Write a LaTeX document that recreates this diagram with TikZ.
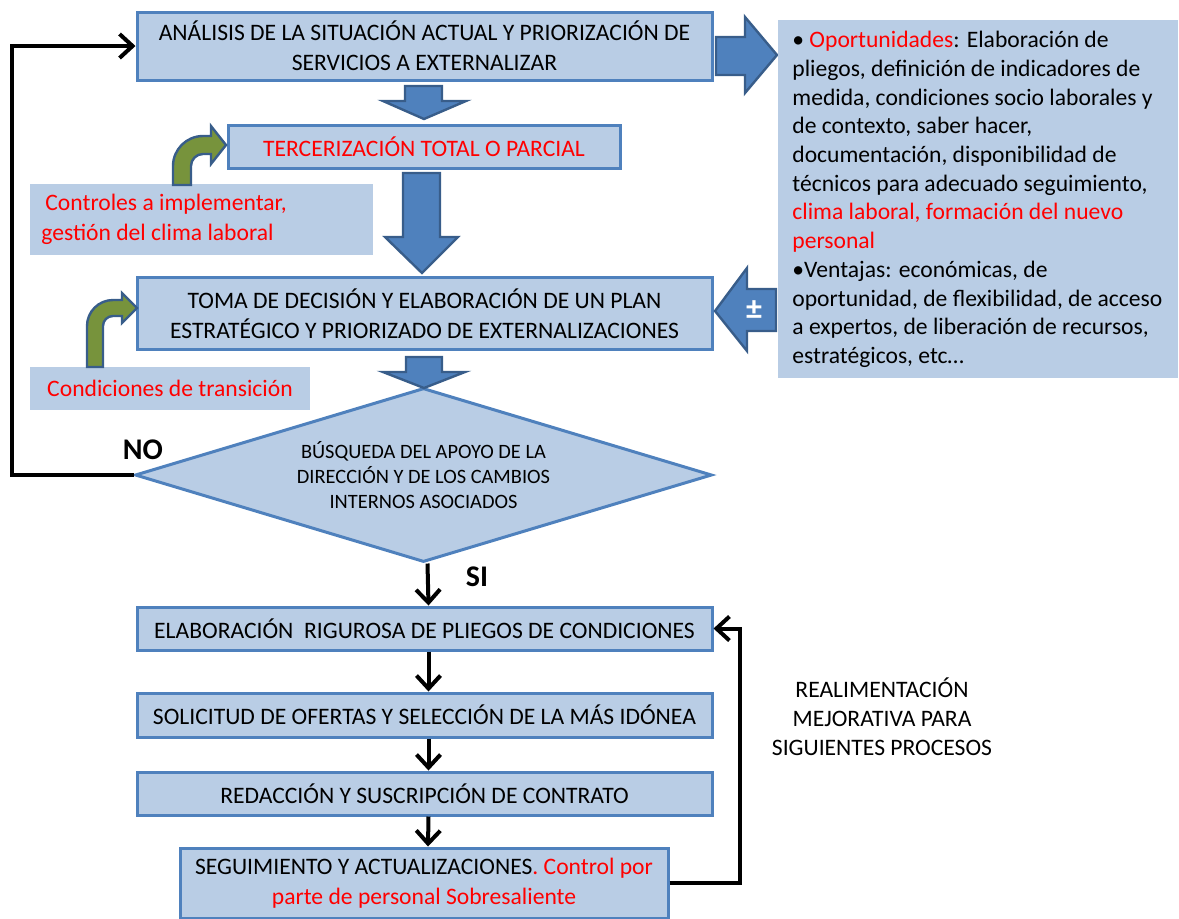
\documentclass[tikz,border=0pt]{standalone}
\usepackage{fontspec}
\setmainfont{Carlito}
\usetikzlibrary{arrows.meta,shapes.geometric}
\definecolor{boxfill}{HTML}{B9CDE5}
\definecolor{boxline}{HTML}{4F81BD}
\definecolor{arrfill}{HTML}{4F81BD}
\definecolor{arrline}{HTML}{385D8A}
\definecolor{grn}{HTML}{77933C}
\definecolor{rd}{HTML}{FF0000}
\begin{document}
\begin{tikzpicture}[x=0.5pt,y=-0.5pt,
  flowbox/.style={draw=boxline,line width=1.5pt,fill=boxfill,align=center,inner sep=0pt,font=\fontsize{11.8}{15}\selectfont},
  notebox/.style={fill=boxfill,inner sep=0pt,font=\fontsize{11.8}{15}\selectfont},
  blockarrow/.style={fill=arrfill,draw=arrline,line width=1.2pt,line join=miter},
  bentarrow/.style={fill=grn,draw=arrline,line width=1.2pt,line join=miter},
  conn/.style={line width=2pt,-{Straight Barb[length=6.5pt,width=12pt]}},
  lbl/.style={font=\bfseries\fontsize{15}{17}\selectfont,inner sep=0pt}]
\useasboundingbox (0,0) rectangle (1179,918);

% main flow boxes
\node[flowbox,minimum width=287.5pt,minimum height=34pt] (box1) at (424.5,46)
  {ANÁLISIS DE LA SITUACIÓN ACTUAL Y PRIORIZACIÓN DE\\SERVICIOS A EXTERNALIZAR};
\node[flowbox,minimum width=196pt,minimum height=21.5pt,text=rd] (box2) at (424,146.5)
  {TERCERIZACIÓN TOTAL O PARCIAL};
\node[flowbox,minimum width=287.5pt,minimum height=36pt] (box3) at (424.5,313.5)
  {TOMA DE DECISIÓN Y ELABORACIÓN DE UN PLAN\\ESTRATÉGICO Y PRIORIZADO DE EXTERNALIZACIONES};
\node[draw=boxline,line width=1.5pt,fill=boxfill,shape=diamond,shape aspect=3.3,
  minimum width=288.5pt,minimum height=87pt,inner sep=0pt,align=center,
  font=\fontsize{10.2}{12.5}\selectfont] (dia) at (423.5,475)
  {BÚSQUEDA DEL APOYO DE LA\\DIRECCIÓN Y DE LOS CAMBIOS\\INTERNOS ASOCIADOS};
\node[flowbox,minimum width=287.5pt,minimum height=21.5pt] (box4) at (424.5,628.5)
  {ELABORACIÓN\ \ RIGUROSA DE PLIEGOS DE CONDICIONES};
\node[flowbox,minimum width=287.5pt,minimum height=22pt] (box5) at (424.5,715)
  {SOLICITUD DE OFERTAS Y SELECCIÓN DE LA MÁS IDÓNEA};
\node[flowbox,minimum width=287.5pt,minimum height=21.5pt] (box6) at (424.5,793.5)
  {REDACCIÓN Y SUSCRIPCIÓN DE CONTRATO};
\node[flowbox,minimum width=244pt,minimum height=35pt] (box7) at (424,883)
  {SEGUIMIENTO Y ACTUALIZACIONES\textcolor{rd}{. Control por}\\\textcolor{rd}{parte de personal Sobresaliente}};

% side notes
\node[notebox,minimum width=171.5pt,minimum height=35.5pt,align=left,text=rd] (ctrl) at (201.5,219.5)
  {\hspace*{2pt}Controles a implementar,\\gestión del clima laboral\hspace*{44pt}};
\node[notebox,minimum width=140pt,minimum height=21.5pt,text=rd] (cond) at (170,388.5)
  {Condiciones de transición};

% block arrows
\draw[blockarrow] (405,86) -- (442,86) -- (442,101) -- (466,101) -- (424,119) -- (383,101) -- (405,101) -- cycle;
\draw[blockarrow] (403,173) -- (440,173) -- (440,237) -- (458,237) -- (422,273) -- (385,237) -- (403,237) -- cycle;
\draw[blockarrow] (406,357) -- (442,357) -- (442,372) -- (465,372) -- (424,388) -- (383,372) -- (406,372) -- cycle;
\draw[blockarrow] (716,37) -- (745,37) -- (745,17) -- (777,55) -- (745,93) -- (745,75) -- (716,75) -- cycle;
\draw[blockarrow] (776,289) -- (747,289) -- (747,268) -- (715,311) -- (747,351) -- (747,331) -- (776,331) -- cycle;
\node[text=white,font=\bfseries\fontsize{16}{18}\selectfont,inner sep=0pt] (pm) at (754,310) {±};

% right info box
\node[fill=boxfill,anchor=north west,minimum width=200pt,minimum height=179pt,
  inner xsep=7pt,inner ysep=0pt,text width=186pt,align=flush left,
  font=\fontsize{11.8}{14.35}\selectfont] (info) at (778,20)
  {• \textcolor{rd}{Oportunidades}: Elaboración de\\
   pliegos, definición de indicadores de\\
   medida, condiciones socio laborales y\\
   de contexto, saber hacer,\\
   documentación, disponibilidad de\\
   técnicos para adecuado seguimiento,\\
   \textcolor{rd}{clima laboral, formación del nuevo}\\
   \textcolor{rd}{personal}\\
   •Ventajas: económicas, de\\
   \mbox{oportunidad, de flexibilidad, de acceso}\\
   a expertos, de liberación de recursos,\\
   estratégicos, etc…};

% green bent arrows
\draw[bentarrow] (173,185) -- (173,166) arc[start angle=180,end angle=270,radius=30]
  -- (211,136) -- (211,126) -- (226,145) -- (211,164) -- (211,154) -- (203,154)
  arc[start angle=270,end angle=180,radius=12] -- (191,185) -- cycle;
\draw[bentarrow] (87,367) -- (87,326) arc[start angle=180,end angle=270,radius=26]
  -- (122,300) -- (122,293) -- (137,308) -- (122,323) -- (122,316) -- (113,316)
  arc[start angle=270,end angle=180,radius=10] -- (103,367) -- cycle;

% connectors
\coordinate (noleft) at (12,475);
\coordinate (fbright) at (740,0);
\draw[conn,line join=miter] (dia.west) -- (noleft) |- (box1.west);
\draw[conn] ([xshift=2pt]dia.south) -- ([xshift=2pt]box4.north);
\draw[conn] ([xshift=2pt]box4.south) -- ([xshift=2pt]box5.north);
\draw[conn] ([xshift=2pt]box5.south) -- ([xshift=2pt]box6.north);
\draw[conn] ([xshift=2pt]box6.south) -- ([xshift=2pt]box7.north);
\draw[conn,line join=miter] (box7.east) -- (box7.east -| fbright) |- (box4.east);

% labels
\node[lbl] (no) at (143,450) {NO};
\node[lbl] (si) at (477,577) {SI};
\node[align=center,font=\fontsize{11.8}{14.5}\selectfont] (realim) at (882,717)
  {REALIMENTACIÓN\\MEJORATIVA PARA\\SIGUIENTES PROCESOS};
\end{tikzpicture}
\end{document}
